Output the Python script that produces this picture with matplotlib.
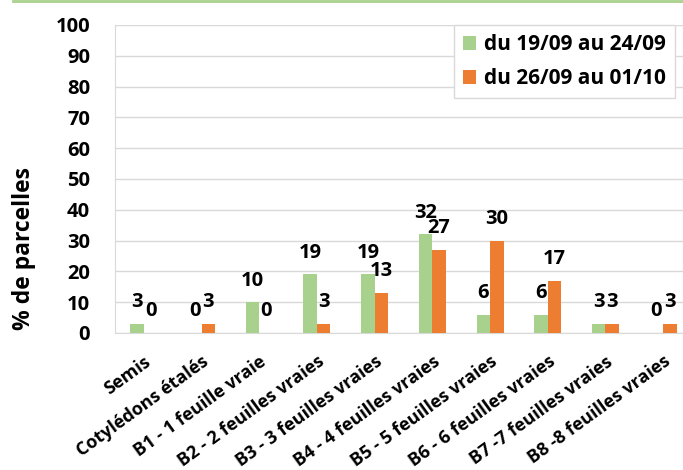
import numpy as np
import matplotlib.pyplot as plt
from matplotlib.lines import Line2D

plt.rcParams['font.family'] = ['Open Sans', 'DejaVu Sans']
plt.rcParams['font.weight'] = 'bold'

categories = ["Semis", "Cotylédons étalés", "B1 - 1 feuille vraie", "B2 - 2 feuilles vraies",
              "B3 - 3 feuilles vraies", "B4 - 4 feuilles vraies", "B5 - 5 feuilles vraies",
              "B6 - 6 feuilles vraies", "B7 -7 feuilles vraies", "B8 -8 feuilles vraies"]
week1 = [3, 0, 10, 19, 19, 32, 6, 6, 3, 0]
week2 = [0, 3, 0, 3, 13, 27, 30, 17, 3, 3]
series_names = ["du 19/09 au 24/09", "du 26/09 au 01/10"]
colors = ["#A9D18E", "#ED7D31"]

fig = plt.figure(figsize=(6.83, 4.70), dpi=100)
ax = fig.add_axes([115 / 683, 1 - 333 / 470, 577 / 683, 308 / 470])

x = np.arange(len(categories))
w = 0.234
ax.bar(x - w / 2, week1, w, color=colors[0], label=series_names[0], zorder=3)
ax.bar(x + w / 2, week2, w, color=colors[1], label=series_names[1], zorder=3)

for xs, vals in [(x - w / 2, week1), (x + w / 2, week2)]:
    for xi, v in zip(xs, vals):
        ax.text(xi, v + 7, str(v), ha='center', va='center', fontsize=14.5, fontweight='bold')

ax.set_xlim(-0.5, len(categories) - 0.5)
ax.set_ylim(0, 100)
ax.set_yticks(np.arange(0, 101, 10))
ax.yaxis.grid(True, color='#D9D9D9', linewidth=1, zorder=0)
ax.set_axisbelow(True)
for s in ['top', 'right']:
    ax.spines[s].set_visible(False)
ax.spines['left'].set_color('#D9D9D9')
ax.spines['bottom'].set_color('#D9D9D9')
ax.tick_params(axis='y', length=0, labelsize=14.5, pad=18)
ax.tick_params(axis='x', length=0, pad=14)
ax.set_xticks(x)
ax.set_xticklabels(categories, rotation=36, ha='right', rotation_mode='anchor',
                   fontsize=13, fontweight='bold')
for t in ax.get_yticklabels():
    t.set_fontweight('bold')

fig.text(24 / 683, 1 - 249 / 470, "% de parcelles", rotation=90, ha='center', va='center',
         fontsize=16.5, fontweight='bold')

ax.legend(loc='upper right', bbox_to_anchor=(675 / 683, 1 - 25 / 470),
          bbox_transform=fig.transFigure, fontsize=15,
          frameon=True, fancybox=False, edgecolor='#D9D9D9', framealpha=1,
          handlelength=0.65, handleheight=0.65, handletextpad=0.35, labelspacing=0.6,
          borderpad=0.45, borderaxespad=0)

fig.add_artist(Line2D([13 / 683, 1], [1 - 1 / 470, 1 - 1 / 470], color='#A9D18E', linewidth=2))

fig.savefig("out.png", dpi=100)
